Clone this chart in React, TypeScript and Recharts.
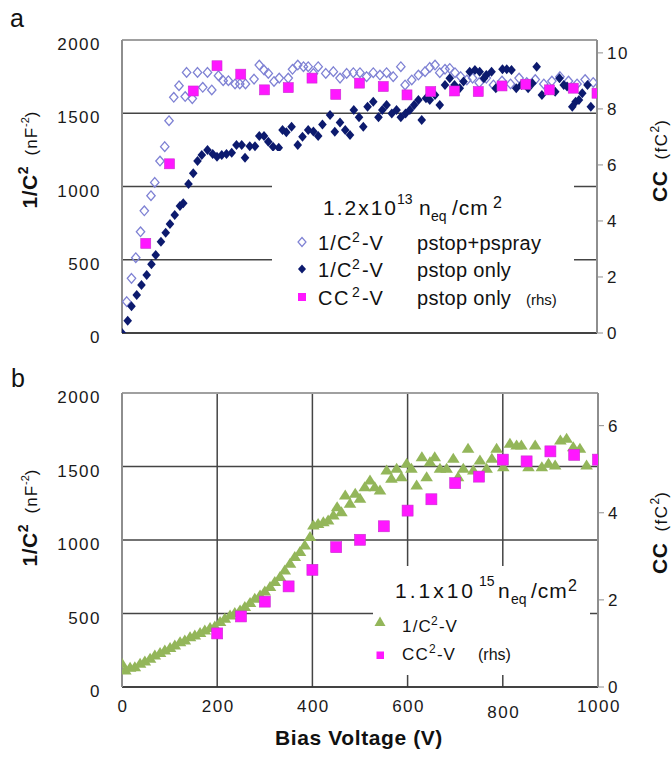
import React from 'react';
import { ScatterChart, Scatter, XAxis, YAxis, CartesianGrid, ReferenceLine } from 'recharts';

const FONT = '"Liberation Sans", Arial, Helvetica, sans-serif';

// ---------- axis ticks ----------
const biasTicks = [0, 200, 400, 600, 800, 1000];
const invC2Ticks = [0, 500, 1000, 1500, 2000];
const ccTicksA = [0, 2, 4, 6, 8, 10];
const ccTicksB = [0, 2, 4, 6];

// ---------- panel a : 1.2e13 neq/cm2 ----------
// 1/C^2-V pstop+pspray (open diamonds)
const aSprayBias = [10, 20, 29, 39, 47, 61, 69, 80, 90, 99,
  109, 120, 133, 136, 148, 159, 170, 180, 189, 203,
  213, 224, 238, 248, 260, 278, 289, 299, 308, 320,
  331, 350, 359, 370, 382, 392, 403, 413, 429, 445,
  459, 473, 487, 501, 515, 529, 543, 557, 571, 587,
  596, 610, 624, 638, 648, 659, 669, 680, 690, 701,
  713, 726, 738, 752, 767, 782, 800, 818, 836, 852,
  870, 888, 905, 922, 940, 958, 975, 992];
const aSprayInvC2 = [214, 373, 514, 691, 834, 937, 1028, 1174, 1272, 1449,
  1609, 1688, 1614, 1779, 1600, 1779, 1677, 1779, 1659, 1756,
  1722, 1722, 1700, 1700, 1700, 1733, 1829, 1795, 1772, 1717,
  1740, 1740, 1800, 1829, 1818, 1818, 1772, 1818, 1772, 1784,
  1740, 1772, 1777, 1777, 1750, 1777, 1761, 1777, 1750, 1818,
  1693, 1727, 1761, 1784, 1813, 1829, 1777, 1800, 1806, 1777,
  1750, 1727, 1740, 1709, 1740, 1693, 1720, 1700, 1740, 1710,
  1730, 1700, 1720, 1750, 1720, 1700, 1730, 1710];

// 1/C^2-V pstop only (filled diamonds)
const aStopBias = [0, 12, 20, 31, 41, 52, 62, 71, 82, 92,
  101, 111, 122, 129, 140, 150, 159, 168, 180, 191,
  200, 210, 220, 231, 241, 252, 259, 269, 280, 289,
  299, 308, 318, 330, 338, 346, 357, 370, 380, 392,
  403, 413, 422, 438, 448, 459, 470, 480, 488, 499,
  508, 517, 529, 540, 548, 557, 568, 578, 587, 597,
  606, 615, 624, 631, 640, 648, 659, 669, 680, 690,
  700, 711, 719, 732, 743, 753, 762, 767, 778, 787,
  801, 810, 820, 830, 841, 855, 864, 873, 884, 898,
  912, 921, 930, 937, 948, 955, 962, 969, 980, 987];
const aStopInvC2 = [0, 84, 183, 259, 328, 396, 469, 532, 623, 685,
  744, 806, 867, 885, 1017, 1090, 1174, 1215, 1249, 1222,
  1203, 1215, 1222, 1231, 1283, 1283, 1197, 1274, 1274, 1345,
  1345, 1306, 1272, 1265, 1386, 1370, 1408, 1283, 1340, 1386,
  1375, 1345, 1424, 1488, 1374, 1437, 1386, 1352, 1522, 1472,
  1408, 1545, 1579, 1472, 1522, 1556, 1499, 1522, 1472, 1499,
  1522, 1556, 1590, 1454, 1602, 1590, 1625, 1556, 1693, 1739,
  1693, 1670, 1716, 1784, 1795, 1784, 1739, 1761, 1784, 1670,
  1800, 1800, 1795, 1670, 1693, 1670, 1704, 1818, 1625, 1659,
  1647, 1739, 1693, 1682, 1545, 1579, 1590, 1636, 1693, 1545];

// CC^2-V pstop only (rhs, squares)
const aCcBias = [50, 100, 150, 200, 250, 300, 350, 400, 450, 500,
  550, 600, 650, 700, 750, 800, 850, 900, 950, 1000];
const aCc = [3.2, 6.04, 8.64, 9.54, 9.24, 8.68, 8.76, 9.1, 8.52, 8.92,
  8.8, 8.5, 8.62, 8.64, 8.62, 8.82, 8.88, 8.68, 8.74, 8.56];

// ---------- panel b : 1.1e15 neq/cm2 ----------
const bBias = [0, 7, 17, 27, 38, 48, 59, 69, 80, 90,
  101, 111, 122, 132, 143, 153, 164, 174, 185, 195,
  206, 216, 227, 237, 248, 258, 269, 279, 290, 300,
  311, 321, 332, 342, 353, 363, 374, 384, 395, 402,
  412, 423, 433, 444, 452, 461, 469, 479, 490, 500,
  510, 521, 531, 542, 556, 566, 577, 587, 598, 608,
  619, 630, 640, 647, 657, 668, 682, 696, 706, 717,
  727, 738, 752, 766, 777, 787, 801, 815, 829, 839,
  854, 868, 882, 896, 910, 921, 934, 948, 962, 976];
const bInvC2 = [161, 116, 134, 138, 161, 177, 195, 218, 234, 252,
  268, 286, 308, 320, 342, 354, 370, 388, 404, 415,
  445, 467, 490, 506, 524, 547, 574, 603, 626, 653,
  683, 717, 751, 796, 841, 887, 921, 966, 1023, 1102,
  1113, 1125, 1136, 1170, 1227, 1193, 1306, 1250, 1318, 1284,
  1363, 1408, 1363, 1340, 1476, 1420, 1488, 1431, 1522, 1488,
  1374, 1567, 1431, 1533, 1567, 1488, 1488, 1556, 1431, 1488,
  1624, 1476, 1545, 1488, 1556, 1624, 1499, 1658, 1647, 1647,
  1499, 1647, 1499, 1522, 1510, 1680, 1692, 1635, 1624, 1510];
const bCcBias = [200, 250, 300, 350, 400, 450, 500, 550, 600, 650,
  700, 750, 800, 850, 900, 950, 1000];
const bCc = [1.23, 1.62, 1.96, 2.31, 2.69, 3.21, 3.38, 3.69, 4.05, 4.31,
  4.68, 4.83, 5.22, 5.18, 5.41, 5.33, 5.22];

const zip = (xs: number[], ys: number[]) => xs.map((x, i) => ({ x, y: ys[i] }));

const aSpray = zip(aSprayBias, aSprayInvC2);
const aStop = zip(aStopBias, aStopInvC2);
const aCcData = zip(aCcBias, aCc);
const bCv = zip(bBias, bInvC2);
const bCcData = zip(bCcBias, bCc);

// ---------- colours ----------
const OPEN_BLUE = '#7f82d4';
const NAVY = '#0c1a6e';
const MAGENTA = '#ff17ff';
const GREEN = '#93b65a';
const GRID = '#444';
const FRAME = '#8e8e8e';

// ---------- marker shapes ----------
const OpenDiamond = (p: any) => {
  const { cx, cy } = p;
  if (cx == null || cy == null) return null;
  return <path d={`M${cx} ${cy - 4.8}L${cx + 4.2} ${cy}L${cx} ${cy + 4.8}L${cx - 4.2} ${cy}Z`} fill="none" stroke={OPEN_BLUE} strokeWidth={1.3} />;
};
const FilledDiamond = (p: any) => {
  const { cx, cy } = p;
  if (cx == null || cy == null) return null;
  return <path d={`M${cx} ${cy - 5}L${cx + 4.3} ${cy}L${cx} ${cy + 5}L${cx - 4.3} ${cy}Z`} fill={NAVY} />;
};
const Square = (s: number) => (p: any) => {
  const { cx, cy } = p;
  if (cx == null || cy == null) return null;
  return <rect x={cx - s / 2} y={cy - s / 2} width={s} height={s} fill={MAGENTA} stroke="#c92fd0" strokeWidth={0.6} />;
};
const Triangle = (p: any) => {
  const { cx, cy } = p;
  if (cx == null || cy == null) return null;
  return <path d={`M${cx} ${cy - 5.5}L${cx + 6.3} ${cy + 4.5}L${cx - 6.3} ${cy + 4.5}Z`} fill={GREEN} />;
};

// ---------- ticks ----------
const tickStyle: React.CSSProperties = { fontFamily: FONT, fontSize: 17, fill: '#1a1a1a', letterSpacing: 1.5 };
const LeftTick = (p: any) => (
  <text x={p.x} y={p.y + 10} textAnchor="end" style={tickStyle}>{p.payload.value}</text>
);
const RightTick = (p: any) => (
  <text x={p.x} y={p.y + 6} textAnchor="start" style={tickStyle}>{p.payload.value}</text>
);
const BottomTick = (p: any) => (
  <text x={p.x + 1} y={p.y + 25 + (p.payload.value === 800 ? 6 : 0)} textAnchor="middle" style={tickStyle}>{p.payload.value}</text>
);

const ChartA = () => (
  <ScatterChart width={672} height={360} margin={{ top: 40, right: 0, bottom: 0, left: 0 }}>
    <CartesianGrid yAxisId="L" stroke={GRID} strokeWidth={1.5} />
    <XAxis type="number" dataKey="x" domain={[0, 1000]} ticks={biasTicks} allowDataOverflow
      tick={false} tickLine={false} height={27} axisLine={{ stroke: '#333', strokeWidth: 1.5 }} />
    <YAxis yAxisId="L" type="number" dataKey="y" domain={[0, 2000]} ticks={invC2Ticks} allowDataOverflow
      width={122} tickSize={0} tickMargin={21} tickLine={false}
      axisLine={{ stroke: FRAME, strokeWidth: 2 }} tick={LeftTick} />
    <YAxis yAxisId="R" orientation="right" type="number" dataKey="y" domain={[0, 10.46]} ticks={ccTicksA} allowDataOverflow
      width={75} tickSize={6} tickMargin={4} tickLine={{ stroke: FRAME }}
      axisLine={{ stroke: FRAME, strokeWidth: 2 }} tick={RightTick} />
    <ReferenceLine yAxisId="L" y={2000} stroke="#a0a0a0" strokeWidth={2.2} />
    <Scatter yAxisId="L" data={aSpray} shape={OpenDiamond} isAnimationActive={false} />
    <Scatter yAxisId="L" data={aStop} shape={FilledDiamond} isAnimationActive={false} />
    <Scatter yAxisId="R" data={aCcData} shape={Square(10)} isAnimationActive={false} />
  </ScatterChart>
);

const ChartB = () => (
  <ScatterChart width={672} height={403} margin={{ top: 33, right: 0, bottom: 0, left: 0 }}>
    <CartesianGrid yAxisId="L" stroke={GRID} strokeWidth={1.5} />
    <XAxis type="number" dataKey="x" domain={[0, 1000]} ticks={biasTicks} allowDataOverflow
      tickSize={0} tickMargin={0} tickLine={false} height={76}
      axisLine={{ stroke: '#333', strokeWidth: 1.5 }} tick={BottomTick} />
    <YAxis yAxisId="L" type="number" dataKey="y" domain={[0, 2000]} ticks={invC2Ticks} allowDataOverflow
      width={122} tickSize={0} tickMargin={21} tickLine={false}
      axisLine={{ stroke: FRAME, strokeWidth: 2 }} tick={LeftTick} />
    <YAxis yAxisId="R" orientation="right" type="number" dataKey="y" domain={[0, 6.75]} ticks={ccTicksB} allowDataOverflow
      width={74} tickSize={6} tickMargin={4} tickLine={{ stroke: FRAME }}
      axisLine={{ stroke: FRAME, strokeWidth: 2 }} tick={RightTick} />
    <ReferenceLine yAxisId="L" y={2000} stroke="#a0a0a0" strokeWidth={2.2} />
    <Scatter yAxisId="L" data={bCv} shape={Triangle} isAnimationActive={false} />
    <Scatter yAxisId="R" data={bCcData} shape={Square(11)} isAnimationActive={false} />
  </ScatterChart>
);

// ---------- overlay: titles and legends ----------
const txt = { fontFamily: FONT, fill: '#111' };

const LeftTitle = ({ x, y }: { x: number; y: number }) => (
  <text transform={`rotate(-90 ${x} ${y})`} x={x} y={y} textAnchor="middle" style={txt}>
    <tspan fontSize={21} fontWeight="bold" letterSpacing={0.5}>1/C</tspan>
    <tspan fontSize={14} fontWeight="bold" dy={-9}>2</tspan>
    <tspan fontSize={17} dx={11} dy={9} letterSpacing={1}>(nF</tspan>
    <tspan fontSize={11} dy={-8}>-2</tspan>
    <tspan fontSize={17} dy={8}>)</tspan>
  </text>
);
const RightTitle = ({ x, y }: { x: number; y: number }) => (
  <text transform={`rotate(-90 ${x} ${y})`} x={x} y={y} textAnchor="middle" style={txt}>
    <tspan fontSize={21} fontWeight="bold" letterSpacing={0.5}>CC</tspan>
    <tspan fontSize={17} dx={11} letterSpacing={1.5}>(fC</tspan>
    <tspan fontSize={12} dy={-8}>2</tspan>
    <tspan fontSize={17} dy={8}>)</tspan>
  </text>
);

const Overlay = () => (
  <svg width={672} height={763} style={{ position: 'absolute', left: 0, top: 0, pointerEvents: 'none' }}>
    {/* panel letters */}
    <text x={10} y={27} fontSize={25} style={txt}>a</text>
    <text x={11} y={387} fontSize={25} style={txt}>b</text>

    {/* axis titles */}
    <LeftTitle x={37} y={160} />
    <LeftTitle x={37} y={518} />
    <RightTitle x={667} y={161} />
    <RightTitle x={667} y={533} />
    <text x={359} y={745} textAnchor="middle" fontSize={21} fontWeight="bold" letterSpacing={0.6} style={txt}>Bias Voltage (V)</text>

    {/* legend a */}
    <rect x={272} y={151} width={302} height={162} fill="#fff" />
    <text y={215} style={txt}>
      <tspan x={323} fontSize={21} letterSpacing={2}>1.2x10</tspan>
      <tspan x={397} dy={-11} fontSize={14}>13</tspan>
      <tspan x={419} dy={11} fontSize={21}>n</tspan>
      <tspan x={431} dy={6} fontSize={14}>eq</tspan>
      <tspan x={452} dy={-6} fontSize={21} letterSpacing={1}>/cm</tspan>
      <tspan x={493} dy={-7} fontSize={16}>2</tspan>
    </text>
    <path d="M302 237.5L306 242L302 246.5L298 242Z" fill="none" stroke={OPEN_BLUE} strokeWidth={1.2} />
    <path d="M302 264.5L306 269L302 273.5L298 269Z" fill={NAVY} />
    <rect x={298} y={293} width={8} height={8} fill={MAGENTA} />
    {[{ y: 250, a: '1/C', b: 'pstop+pspray' }, { y: 277, a: '1/C', b: 'pstop only' }, { y: 305, a: 'CC', b: 'pstop only' }].map((r) => (
      <text key={r.y} y={r.y} style={txt} fontSize={20}>
        <tspan x={318} letterSpacing={r.a === 'CC' ? 1.5 : 1.2}>{r.a}</tspan>
        <tspan x={352} dy={-8} fontSize={14}>2</tspan>
        <tspan x={362} dy={8} letterSpacing={0.8}>-V</tspan>
        <tspan x={417} letterSpacing={0.3}>{r.b}</tspan>
        {r.a === 'CC' ? <tspan x={526} fontSize={15}>(rhs)</tspan> : null}
      </text>
    ))}

    {/* legend b */}
    <rect x={373} y={566} width={217} height={109} fill="#fff" />
    <text y={598} style={txt}>
      <tspan x={395} fontSize={21} letterSpacing={3}>1.1x10</tspan>
      <tspan x={479} dy={-12} fontSize={14}>15</tspan>
      <tspan x={498} dy={12} fontSize={21}>n</tspan>
      <tspan x={511} dy={6} fontSize={14}>eq</tspan>
      <tspan x={531} dy={-6} fontSize={21} letterSpacing={1}>/cm</tspan>
      <tspan x={568} dy={-7} fontSize={16}>2</tspan>
    </text>
    <path d="M380 616.5L385.5 626L374.5 626Z" fill={GREEN} />
    <rect x={376.5} y={651.5} width={7.5} height={7.5} fill={MAGENTA} />
    <text y={632} style={txt} fontSize={17}>
      <tspan x={402} letterSpacing={1.2}>1/C</tspan>
      <tspan x={431} dy={-7} fontSize={12}>2</tspan>
      <tspan x={439} dy={7} letterSpacing={0.8}>-V</tspan>
    </text>
    <text y={660} style={txt} fontSize={17}>
      <tspan x={402} letterSpacing={1.2}>CC</tspan>
      <tspan x={429} dy={-7} fontSize={12}>2</tspan>
      <tspan x={437} dy={7} letterSpacing={0.8}>-V</tspan>
      <tspan x={478} fontSize={16}>(rhs)</tspan>
    </text>
  </svg>
);

export default function App() {
  return (
    <div style={{ position: 'absolute', left: 0, top: 0, width: 672, height: 763, background: '#fff', fontFamily: FONT }}>
      <div style={{ position: 'absolute', left: 0, top: 0 }}>
        <ChartA />
      </div>
      <div style={{ position: 'absolute', left: 0, top: 360 }}>
        <ChartB />
      </div>
      <Overlay />
    </div>
  );
}
